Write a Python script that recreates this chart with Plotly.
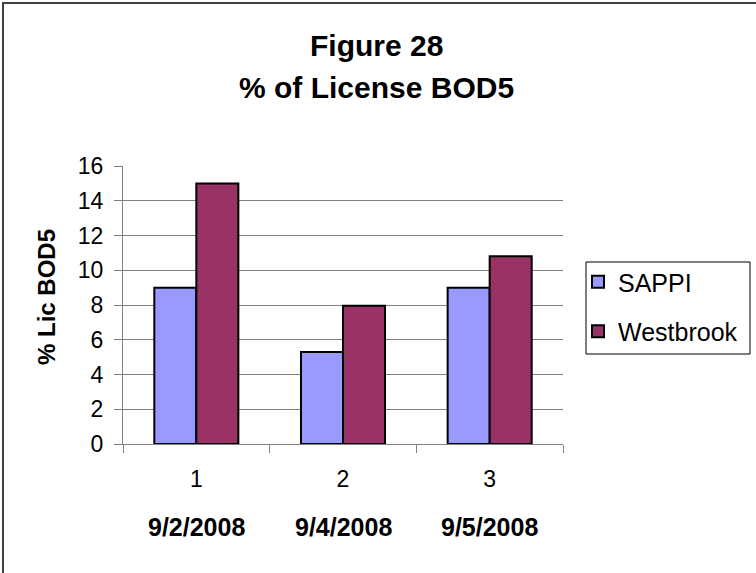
import plotly.graph_objects as go

categories = ["1", "2", "3"]
dates = ["9/2/2008", "9/4/2008", "9/5/2008"]
sappi = [9.0, 5.3, 9.0]
westbrook = [15.0, 7.95, 10.8]
y_ticks = [0, 2, 4, 6, 8, 10, 12, 14, 16]

FONT = "Liberation Sans, Arial, sans-serif"

fig = go.Figure()
fig.add_trace(go.Bar(x=categories, y=sappi, name="SAPPI", legendgroup="a",
                     marker=dict(color="#9999FF", line=dict(color="#000000", width=2))))
fig.add_trace(go.Bar(x=categories, y=westbrook, name="Westbrook", legendgroup="b",
                     marker=dict(color="#993366", line=dict(color="#000000", width=2))))

L, R, T, B = 123, 193, 166, 129
W, H = 756, 573
pw = W - L - R
ph = H - T - B

def px_x(px):
    return (px - L) / pw

def px_y(py):
    return (H - B - py) / ph

annotations = []
for i, d in enumerate(dates):
    annotations.append(dict(x=i, xref="x", y=px_y(527), yref="paper", text="<b>%s</b>" % d,
                            showarrow=False, font=dict(family=FONT, size=25, color="#000"),
                            xanchor="center", yanchor="middle"))
annotations.append(dict(x=px_x(46), xref="paper", y=px_y(297), yref="paper",
                        text="<b>% Lic BOD5</b>", textangle=-90, showarrow=False,
                        font=dict(family=FONT, size=24, color="#000"),
                        xanchor="center", yanchor="middle"))
annotations.append(dict(x=px_x(376), xref="paper", y=px_y(45), yref="paper",
                        text="<b>Figure 28</b>", showarrow=False,
                        font=dict(family=FONT, size=30, color="#000"),
                        xanchor="center", yanchor="middle"))
annotations.append(dict(x=px_x(376), xref="paper", y=px_y(87), yref="paper",
                        text="<b>% of License BOD5</b>", showarrow=False,
                        font=dict(family=FONT, size=30, color="#000"),
                        xanchor="center", yanchor="middle"))

fig.update_layout(
    width=W, height=H,
    margin=dict(l=L, r=R, t=T, b=B, autoexpand=False),
    paper_bgcolor="white", plot_bgcolor="white",
    barmode="group", bargap=0.427, bargroupgap=0,
    font=dict(family=FONT, color="#000"),
    showlegend=True,
    legend=dict(x=px_x(578), y=px_y(259), xanchor="left", yanchor="top",
                borderwidth=0, bgcolor="rgba(0,0,0,0)",
                font=dict(family=FONT, size=25, color="#000"),
                tracegroupgap=14, itemwidth=30),
    annotations=annotations,
    shapes=[
        dict(type="rect", xref="paper", yref="paper",
             x0=px_x(3), x1=px_x(762), y0=px_y(580), y1=px_y(3),
             line=dict(color="#404040", width=2), fillcolor="rgba(0,0,0,0)"),
        dict(type="rect", xref="paper", yref="paper",
             x0=px_x(586), x1=px_x(750), y0=px_y(354), y1=px_y(262),
             line=dict(color="#000000", width=1), fillcolor="rgba(0,0,0,0)"),
    ],
)
fig.update_xaxes(type="category", range=[-0.5, 2.5], showline=True, linecolor="#808080",
                 linewidth=1, ticks="outside", tickson="boundaries", ticklen=8,
                 tickcolor="#808080",
                 tickfont=dict(family=FONT, size=23, color="#000"),
                 ticklabelstandoff=14, showgrid=False, zeroline=False)
fig.update_yaxes(range=[0, 16], tickvals=y_ticks, showline=True, linecolor="#808080",
                 linewidth=1, ticks="outside", ticklen=8, tickcolor="#808080",
                 tickfont=dict(family=FONT, size=23, color="#000"),
                 ticklabelstandoff=6,
                 showgrid=True, gridcolor="#808080", gridwidth=1, zeroline=False)

fig.write_html("out.html", config={"displayModeBar": False},
               post_script="document.body.style.margin='0';")
